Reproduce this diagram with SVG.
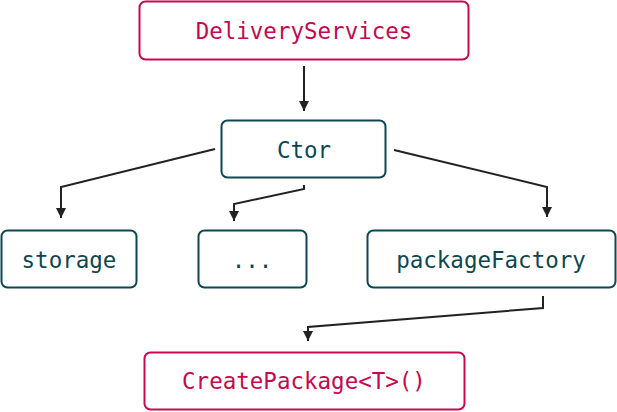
<svg xmlns="http://www.w3.org/2000/svg" width="617" height="412" viewBox="0 0 617 412">
<defs>
<style>
.pink rect{fill:#fff;stroke:#c7084e;stroke-width:2}
.pink text{fill:#c7084e}
.teal rect{fill:#fff;stroke:#0c4752;stroke-width:2}
.teal text{fill:#0c4752}
text{font-family:"DejaVu Sans Mono","Liberation Mono",monospace;font-size:22.5px;text-anchor:middle;dominant-baseline:central}
.conn path{fill:none;stroke:#222;stroke-width:2;marker-end:url(#arr)}
</style>
<marker id="arr" viewBox="0 0 10 10" refX="10" refY="5" markerWidth="10" markerHeight="10" markerUnits="userSpaceOnUse" orient="auto">
<path d="M0,0 L10,5 L0,10 Z" fill="#222"/>
</marker>
</defs>
<g id="DeliveryServices" class="pink"><rect x="139.5" y="1.5" width="329" height="58" rx="6"/><text x="304" y="31">DeliveryServices</text></g>
<g id="Ctor" class="teal"><rect x="221.5" y="120.5" width="164" height="57" rx="6"/><text x="304" y="150">Ctor</text></g>
<g id="storage" class="teal"><rect x="1.5" y="230.5" width="135" height="57" rx="6"/><text x="69" y="260">storage</text></g>
<g id="etc" class="teal"><rect x="198.5" y="230.5" width="108" height="57" rx="6"/><text x="252" y="260">...</text></g>
<g id="packageFactory" class="teal"><rect x="367.5" y="230.5" width="248" height="57" rx="6"/><text x="491" y="260">packageFactory</text></g>
<g id="CreatePackage" class="pink"><rect x="144.5" y="352.5" width="320" height="57" rx="6"/><text x="304" y="381">CreatePackage&lt;T&gt;()</text></g>
<g id="connectors" class="conn">
<path d="M304,66 L304,111"/>
<path d="M215,149 L61,187 L61,218"/>
<path d="M304,185 L304,189 L234,204 L234,221"/>
<path d="M394,150 L547,187 L547,217"/>
<path d="M543,296 L543,308 L308,327 L308,341"/>
</g>
</svg>
